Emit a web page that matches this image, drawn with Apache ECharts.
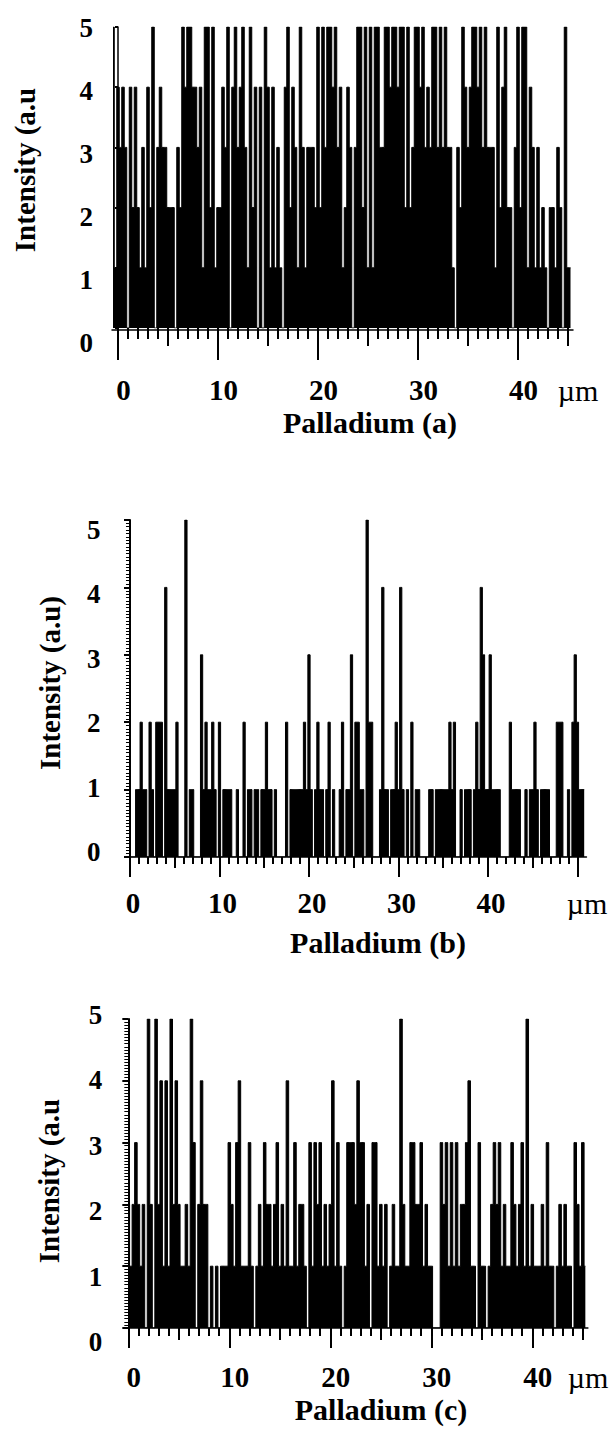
<!DOCTYPE html>
<html><head><meta charset="utf-8">
<script src="https://cdn.jsdelivr.net/npm/echarts@6/dist/echarts.min.js"></script>
<style>html,body{margin:0;padding:0;background:#fff}#c{width:612px;height:1429px}</style>
</head><body><div id="c"></div>
<script>
// ---------- DATA ----------
const binStep = 0.25;           // µm per channel
const startA = -0.5, startB = 0, startC = 0;
const valuesA = [5,1,
 4,3,4,3, 0,4,2,4, 2,1,3,1, 4,2,5,0, 3,4,3,3, 2,2,2,0, 3,2,5,4, 5,5,4,4, 3,4,1,5, 5,2,5,1,
 2,2,4,3, 5,0,4,5, 3,4,5,3, 1,5,2,4, 0,4,0,5, 4,1,4,1, 3,1,0,4, 5,2,4,3, 1,5,3,1, 3,3,3,2,
 5,2,5,3, 5,5,4,5, 3,4,1,2, 4,3,0,3, 5,5,2,5, 1,5,1,5, 5,3,3,5, 5,4,5,5, 4,5,5,2, 5,2,3,5,
 5,4,5,3, 4,3,5,5, 3,5,3,5, 3,3,1,0, 3,2,5,4, 3,4,5,5, 4,5,3,5, 3,3,3,1, 5,2,4,5, 2,2,0,3,
 5,2,5,5, 1,4,3,1, 3,1,2,1, 0,2,2,1, 3,2,0,5, 1,1];
const valuesB = [
 0,0,0,1, 1,2,1,1, 0,2,1,0, 2,2,2,0, 4,1,1,1, 1,2,0,0, 0,5,0,1, 1,0,0,0, 3,1,2,1, 1,2,1,0,
 2,0,1,1, 1,1,0,0, 1,0,0,2, 0,1,1,0, 1,1,0,1, 1,2,1,1, 0,1,0,0, 0,0,2,0, 1,1,1,1, 1,1,2,1,
 3,1,0,1, 2,1,1,0, 1,2,0,1, 0,0,1,2, 0,1,1,3, 0,2,2,1, 1,0,5,2, 2,0,0,0, 1,4,1,1, 0,1,1,2,
 1,4,1,0, 1,0,2,0, 1,1,0,0, 0,0,1,1, 0,1,1,1, 1,1,1,2, 1,2,0,0, 1,0,1,1, 1,0,1,2, 1,4,3,1,
 1,3,1,1, 1,1,0,0, 0,0,2,1, 1,1,1,0, 0,1,0,1, 1,2,1,0, 1,1,1,1, 0,0,0,2, 2,2,0,0, 1,0,2,3,
 2,1,1,1];
const valuesC = [
 2,1,2,3, 2,1,2,0, 5,2,0,5, 2,4,1,4, 1,5,2,4, 2,1,1,2, 1,5,3,0, 2,4,2,2, 0,1,0,1, 0,1,1,1,
 3,2,1,3, 4,1,1,1, 3,1,0,1, 2,1,3,2, 2,1,2,3, 1,2,1,4, 1,1,3,1, 2,2,1,0, 3,1,3,2, 3,1,2,1,
 2,4,1,3, 1,0,1,3, 3,3,2,4, 3,3,1,2, 0,3,3,1, 2,1,2,0, 1,2,1,1, 5,2,1,1, 3,3,2,2, 3,1,2,1,
 1,0,0,0, 3,2,3,1, 3,1,3,1, 2,2,3,4, 1,1,0,3, 1,1,0,1, 2,3,2,3, 1,2,1,1, 3,2,1,2, 3,1,5,1,
 2,1,1,1, 2,1,3,1, 1,0,1,2, 1,2,1,1, 0,3,2,1, 3,1];
const yTickValues = [0,1,2,3,4,5];
const xLabelsA = [0,10,20,30,40], xLabelsB = [0,10,20,30,40], xLabelsC = [0,10,20,30,40];
const longTicksA = [0,10,20,30,40], longTicksB = [0,10,20,30,40,50], longTicksC = [0,10,20,30,40];
const midTicks45 = [5,15,25,35,45];
const unitTicks45 = [0,1,2,3,4,5,6,7,8,9,10,11,12,13,14,15,16,17,18,19,20,21,22,23,24,25,26,27,28,29,30,31,32,33,34,35,36,37,38,39,40,41,42,43,44,45];
const unitTicks50 = unitTicks45.concat([46,47,48,49,50]);
const titles = ['Palladium (a)','Palladium (b)','Palladium (c)'];
const yNames = ['Intensity (a.u','Intensity (a.u)','Intensity (a.u'];
const unitText = 'µm';

// ---------- LAYOUT ----------
const FONT = "'Liberation Serif','Times New Roman',serif";
const panels = [
 {vals:valuesA,start:startA,left:112,top:27,height:301,xmin:-0.6,xmax:45.5,ppu:10,off:2,
  long:longTicksA,longLen:30,mid:midTicks45,midLen:18,unit:unitTicks45,unitLen:11,labels:xLabelsA,
  labMargin:60,labShift:11,yLabTop:28,yLabBot:343,yLabMargin:19,yMinor:false,
  name:[25,170],title:[370,422],um:[578,390]},
 {vals:valuesB,start:startB,left:126.4,top:520,height:337,xmin:-0.4,xmax:51,ppu:8.95,off:0,
  long:longTicksB,longLen:20,mid:midTicks45,midLen:11,unit:unitTicks50,unitLen:7,labels:xLabelsB,
  labMargin:46,labShift:6,yLabTop:530,yLabBot:852,yLabMargin:26,yMinor:true,
  name:[50,683],title:[378,942],um:[587,903]},
 {vals:valuesC,start:startC,left:126.3,top:1019,height:309,xmin:-0.2,xmax:45.5,ppu:10.1,off:0,
  long:longTicksC,longLen:20,mid:midTicks45,midLen:12,unit:unitTicks45,unitLen:8,labels:xLabelsC,
  labMargin:49,labShift:11,yLabTop:1015,yLabBot:1342,yLabMargin:24,yMinor:true,
  name:[49,1181],title:[381,1409],um:[588,1377]}
];

const grid=[], xAxis=[], yAxis=[], series=[], graphic=[];
const blk = '#000';
panels.forEach((p,k)=>{
  const w = (p.xmax-p.xmin)*p.ppu;
  const g0 = grid.length;
  grid.push({left:p.left,top:p.top,width:w,height:p.height,containLabel:false,outerBoundsMode:'none'});
  grid.push({left:p.left,top:p.top,width:w,height:p.height,containLabel:false,outerBoundsMode:'none'});
  grid.push({left:p.left,top:p.top,width:w,height:p.height,containLabel:false,outerBoundsMode:'none'});
  grid.push({left:p.left,top:p.yLabTop,width:w,height:p.yLabBot-p.yLabTop,containLabel:false,outerBoundsMode:'none'});
  const base = {type:'value',min:p.xmin,max:p.xmax,splitLine:{show:false},offset:p.off};
  xAxis.push(Object.assign({},base,{gridIndex:g0,
    axisLine:{show:true,onZero:false,lineStyle:{color:blk,width:1.5}},
    axisTick:{show:true,customValues:p.long,length:p.longLen,lineStyle:{color:blk,width:2}},
    axisLabel:{show:true,customValues:p.labels,margin:p.labMargin,verticalAlign:'middle',padding:[0,0,0,p.labShift],
      fontFamily:FONT,fontSize:29,fontWeight:'bold',color:blk}}));
  xAxis.push(Object.assign({},base,{gridIndex:g0+1,axisLine:{show:false},
    axisTick:{show:true,customValues:p.mid,length:p.midLen,lineStyle:{color:blk,width:2}},axisLabel:{show:false}}));
  xAxis.push(Object.assign({},base,{gridIndex:g0+2,axisLine:{show:false},
    axisTick:{show:true,customValues:p.unit,length:p.unitLen,lineStyle:{color:blk,width:2}},axisLabel:{show:false}}));
  xAxis.push({type:'value',gridIndex:g0+3,min:0,max:1,show:false});
  yAxis.push({type:'value',gridIndex:g0,min:0,max:5,interval:1,splitLine:{show:false},
    axisLine:{show:true,lineStyle:{color:blk,width:p.yMinor?2:1.5}},
    axisTick:{show:true,length:p.yMinor?6:3,lineStyle:{color:blk,width:2}},
    minorTick:{show:p.yMinor,splitNumber:20,length:4,lineStyle:{color:blk,width:1}},
    minorSplitLine:{show:false},axisLabel:{show:false}});
  yAxis.push({type:'value',gridIndex:g0+1,min:0,max:5,show:false});
  yAxis.push({type:'value',gridIndex:g0+2,min:0,max:5,show:false});
  yAxis.push({type:'value',gridIndex:g0+3,min:0,max:5,interval:1,splitLine:{show:false},
    axisLine:{show:false},axisTick:{show:false},
    axisLabel:{show:true,margin:p.yLabMargin,fontFamily:FONT,fontSize:27,fontWeight:'bold',color:blk,
      customValues:yTickValues}});
  series.push({type:'line',xAxisIndex:g0,yAxisIndex:g0,step:'middle',symbol:'none',silent:true,
    data:p.vals.map((v,i)=>[p.start+i*binStep,v]),
    lineStyle:{color:blk,width:1},areaStyle:{color:blk,opacity:1},z:1});
  graphic.push({type:'text',x:p.name[0],y:p.name[1],rotation:Math.PI/2,
    style:{text:yNames[k],font:"bold 29px "+FONT,fill:blk,textAlign:'center',textVerticalAlign:'middle'}});
  graphic.push({type:'text',x:p.title[0],y:p.title[1],
    style:{text:titles[k],font:"bold 30px "+FONT,fill:blk,textAlign:'center',textVerticalAlign:'middle'}});
  graphic.push({type:'text',x:p.um[0],y:p.um[1],
    style:{text:unitText,font:"30px "+FONT,fill:blk,textAlign:'center',textVerticalAlign:'middle'}});
});

const chart = echarts.init(document.getElementById('c'),null,{renderer:'svg'});
chart.setOption({animation:false,backgroundColor:'#fff',grid,xAxis,yAxis,series,graphic});
</script></body></html>
